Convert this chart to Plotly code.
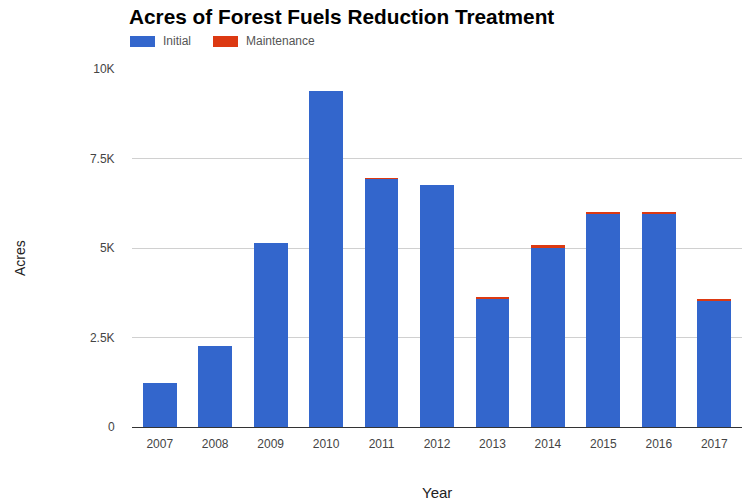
import plotly.graph_objects as go

years = ["2007", "2008", "2009", "2010", "2011", "2012", "2013", "2014", "2015", "2016", "2017"]
initial = [1230, 2250, 5140, 9380, 6930, 6750, 3580, 5020, 5950, 5950, 3520]
maintenance = [0, 0, 0, 0, 15, 0, 45, 55, 35, 35, 65]
y_ticks = [0, 2500, 5000, 7500, 10000]
y_labels = ["0", "2.5K", "5K", "7.5K", "10K"]
series_names = ["Initial", "Maintenance"]
series_colors = ["#3366cc", "#dc3912"]

W, H = 744, 503
L, R, T, B = 132, 2, 69, 76
pw, ph = W - L - R, H - T - B


def px_x(x):
    return (x - L) / pw


def px_y(y):
    return 1 - (y - T) / ph


fig = go.Figure()
for name, vals, col in zip(series_names, [initial, maintenance], series_colors):
    fig.add_trace(go.Bar(x=years, y=vals, name=name, marker=dict(color=col, line=dict(width=0))))

fig.update_layout(
    width=W, height=H,
    barmode="stack", bargap=0.39,
    margin=dict(l=L, r=R, t=T, b=B, pad=0),
    paper_bgcolor="white", plot_bgcolor="white",
    font=dict(family="Arial, Liberation Sans, sans-serif", size=12, color="#444"),
    title=dict(text="<b>Acres of Forest Fuels Reduction Treatment</b>",
               x=129 / W, xanchor="left", y=1 - 17 / H, yanchor="middle",
               font=dict(size=20.8, color="#000")),
    showlegend=False,
)
fig.update_xaxes(showgrid=False, showline=True, linecolor="#333", linewidth=1,
                 ticks="outside", ticklen=6, tickcolor="rgba(0,0,0,0)",
                 tickfont=dict(size=12, color="#444"))
fig.update_yaxes(range=[0, 10000], tickvals=y_ticks, ticktext=y_labels,
                 showgrid=True, gridcolor="#d0d0d0", gridwidth=1, zeroline=False,
                 showline=False, ticks="outside", ticklen=14, tickcolor="rgba(0,0,0,0)",
                 tickfont=dict(size=12, color="#444"))

# custom legend (wide swatches like the reference)
legend_swatch_x = [130, 213]
for sx, name, col in zip(legend_swatch_x, series_names, series_colors):
    fig.add_shape(type="rect", xref="paper", yref="paper",
                  x0=px_x(sx), x1=px_x(sx + 25), y0=px_y(47), y1=px_y(36),
                  fillcolor=col, line=dict(width=0))
    fig.add_annotation(text=name, xref="paper", yref="paper",
                       x=px_x(sx + 31), y=px_y(41.5), xanchor="left", yanchor="middle",
                       showarrow=False, font=dict(size=12, color="#555"))

fig.add_annotation(text="Acres", xref="paper", yref="paper",
                   x=px_x(20), y=px_y(258), xanchor="center", yanchor="middle",
                   textangle=-90, showarrow=False, font=dict(size=14, color="#222"))
fig.add_annotation(text="Year", xref="paper", yref="paper",
                   x=px_x(437), y=px_y(492), xanchor="center", yanchor="middle",
                   showarrow=False, font=dict(size=15, color="#222"))

fig.write_html("out.html")
